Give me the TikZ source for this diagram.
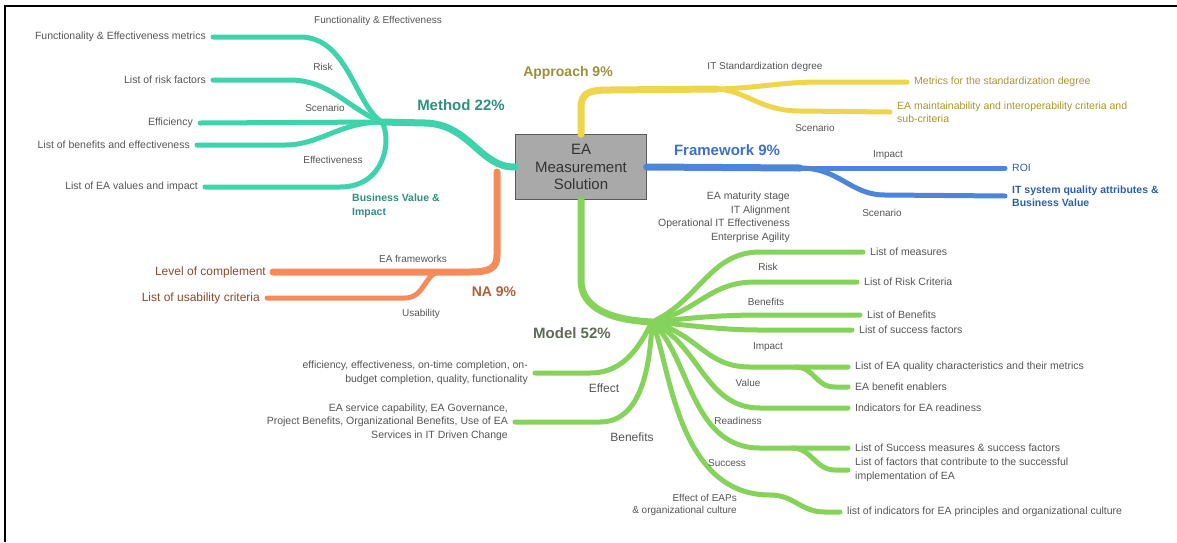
\documentclass[tikz,border=0pt]{standalone}
\usepackage{fontspec}
\setmainfont{Liberation Sans}
\definecolor{methodcol}{HTML}{3ED3AB}
\definecolor{approachcol}{HTML}{EDD54C}
\definecolor{frameworkcol}{HTML}{4C86DA}
\definecolor{nacol}{HTML}{F58A5A}
\definecolor{modelcol}{HTML}{86D35C}
\definecolor{leafgray}{HTML}{555555}
\definecolor{boxgray}{HTML}{A9A9A9}
\definecolor{methodtxt}{HTML}{2F8F80}
\definecolor{approachtxt}{HTML}{9C8F3C}
\definecolor{approachleaf}{HTML}{A8962F}
\definecolor{frameworktxt}{HTML}{3A72C8}
\definecolor{frameworkleaf}{HTML}{2F5FA8}
\definecolor{natxt}{HTML}{B0603A}
\definecolor{naleaf}{HTML}{8A4A30}
\definecolor{modeltxt}{HTML}{5E6B55}
\tikzset{
	leaf/.style={font=\fontsize{10.5}{13.5}\selectfont, text=leafgray, inner xsep=7pt, inner ysep=1pt},
	leafl/.style={leaf, anchor=east, align=right},
	leafr/.style={leaf, anchor=west, align=left},
	twig/.style={font=\fontsize{10}{12}\selectfont, text=leafgray, inner sep=1pt},
	topic/.style={font=\bfseries\fontsize{15}{17}\selectfont, inner sep=1pt},
	branch/.style={line width=5pt, line cap=round},
	trunk/.style={line width=7pt, line cap=round},
}
\begin{document}
\begin{tikzpicture}[x=1pt, y=-1pt]
		\useasboundingbox (0,0) rectangle (1177,542);
		% Frame
		\draw[line width=2pt] (5,542) -- (5,6) -- (1177,6);
		
		% Centre
		\node[draw=gray!70!black, fill=boxgray, minimum width=131pt, minimum height=65pt, inner sep=0pt,
			align=center, font=\fontsize{15}{17.5}\selectfont, text=black!80] (sol) at (581,167) {EA\\Measurement\\Solution};
		
		% Method
		\coordinate (jMethod) at (382,122);
		\node[leafl] (fem) at (213,37) {Functionality \& Effectiveness metrics};
		\node[leafl] (rf) at (213,80) {List of risk factors};
		\node[leafl] (effy) at (200,123) {Efficiency};
		\node[leafl] (lbe) at (197,145) {List of benefits and effectiveness};
		\node[leafl] (lev) at (205,187) {List of EA values and impact};
		\draw[trunk, methodcol] (sol.west) .. controls (480,168) and (470,124) .. (425,123) -- (jMethod);
		\draw[branch, methodcol] (jMethod) .. controls (355,105) and (348,37) .. (300,37) -- (fem.east);
		\draw[branch, methodcol] (jMethod) .. controls (350,110) and (330,80) .. (290,80) -- (rf.east);
		\draw[branch, methodcol] (jMethod) -- (effy.east);
		\draw[branch, methodcol] (jMethod) .. controls (340,122) and (320,145) .. (285,145) -- (lbe.east);
		\draw[branch, methodcol] (jMethod) .. controls (392,140) and (385,187) .. (340,187) -- (lev.east);
		\node[twig, anchor=west] (lFE) at (313,21) {Functionality \& Effectiveness};
		\node[twig] (lRisk) at (323,67) {Risk};
		\node[twig] (lScen) at (325,108) {Scenario};
		\node[twig] (lEffv) at (333,160) {Effectiveness};
		\node[anchor=north west, align=left, inner sep=0pt, text=methodtxt, font=\bfseries\fontsize{10.5}{13.5}\selectfont]
			(lBV) at (352,194) {Business Value \&\\Impact};
		\node[topic, text=methodtxt] (method) at (461,105) {Method 22\%};
		
		% Approach
		\coordinate (jApp) at (717,89);
		\node[leafr, text=approachleaf] (msd) at (907,82) {Metrics for the standardization degree};
		\node[leafr, text=approachleaf] (eam) at (890,112) {EA maintainability and interoperability criteria and\\sub-criteria};
		\draw[trunk, approachcol] (sol.north) -- (581,108) .. controls (581,92) and (590,90) .. (610,90) -- (jApp);
		\draw[branch, approachcol] (jApp) .. controls (760,88) and (780,82) .. (820,82) -- (msd.west);
		\draw[branch, approachcol] (jApp) .. controls (745,90) and (760,111) .. (800,111) -- (eam.west);
		\node[twig] (lITS) at (765,67) {IT Standardization degree};
		\node[twig] (lScen2) at (815,128) {Scenario};
		\node[topic, font=\bfseries\fontsize{14}{16}\selectfont, text=approachtxt] (approach) at (568,73) {Approach 9\%};
		
		% Framework
		\coordinate (jFw) at (800,168);
		\node[leafr, text=frameworkleaf] (roi) at (1005,168) {ROI};
		\node[leafr, text=frameworkleaf, font=\bfseries\fontsize{10.5}{13}\selectfont] (itq) at (1005,196) {IT system quality attributes \&\\Business Value};
		\draw[trunk, frameworkcol] (sol.east) -- (jFw);
		\draw[branch, frameworkcol] (jFw) -- (roi.west);
		\draw[branch, frameworkcol] (jFw) .. controls (840,168) and (850,195) .. (885,195) -- (itq.west);
		\node[twig] (lImp) at (888,155) {Impact};
		\node[twig] (lScen3) at (882,213) {Scenario};
		\node[topic, text=frameworktxt] (framework) at (727,150) {Framework 9\%};
		\node[leaf, anchor=north east, align=right, inner xsep=0pt] (fwlist) at (790,191)
			{EA maturity stage\\IT Alignment\\Operational IT Effectiveness\\Enterprise Agility};
		
		% NA
		\coordinate (jNa) at (497,172);
		\coordinate (jUs) at (440,272);
		\node[leafl, font=\fontsize{12}{14}\selectfont, text=naleaf] (loc) at (273,272) {Level of complement};
		\node[leafl, font=\fontsize{12}{14}\selectfont, text=naleaf] (luc) at (267,298) {List of usability criteria};
		\draw[trunk, nacol] (jNa) -- (497,255) .. controls (497,268) and (490,272) .. (470,272) -- (loc.east);
		\draw[branch, nacol] (jUs) .. controls (425,272) and (425,298) .. (405,298) -- (luc.east);
		\node[twig] (lEAF) at (413,259) {EA frameworks};
		\node[twig] (lUs) at (421,314) {Usability};
		\node[topic, font=\bfseries\fontsize{14}{16}\selectfont, text=natxt] (na) at (494,292) {NA 9\%};
		
		% Model
		\coordinate (jModel) at (652,322);
		\coordinate (jImp) at (795,367);
		\coordinate (jRd) at (792,448);
		\node[leafr] (lm) at (863,252) {List of measures};
		\node[leafr] (lrc) at (857,282) {List of Risk Criteria};
		\node[leafr] (lb) at (860,315) {List of Benefits};
		\node[leafr] (lsf) at (852,330) {List of success factors};
		\node[leafr] (leq) at (848,367) {List of EA quality characteristics and their metrics};
		\node[leafr] (ebe) at (848,387) {EA benefit enablers};
		\node[leafr] (ier) at (848,408) {Indicators for EA readiness};
		\node[leafr] (lsm) at (848,448) {List of Success measures \& success factors};
		\node[leafr] (lfc) at (848,470) {List of factors that contribute to the successful\\implementation of EA};
		\node[leafr] (lie) at (840,512) {list of indicators for EA principles and organizational culture};
		\node[leafl] (eos) at (535,373) {efficiency, effectiveness, on-time completion, on-\\budget completion, quality, functionality};
		\node[leafl] (esc) at (515,422) {EA service capability, EA Governance,\\Project Benefits, Organizational Benefits, Use of EA\\Services in IT Driven Change};
		\draw[trunk, modelcol] (sol.south) -- (581,280) .. controls (581,308) and (610,320) .. (jModel);
		\draw[branch, modelcol] (jModel) .. controls (700,300) and (710,252) .. (760,252) -- (lm.west);
		\draw[branch, modelcol] (jModel) .. controls (700,310) and (710,282) .. (755,282) -- (lrc.west);
		\draw[branch, modelcol] (jModel) .. controls (690,318) and (720,315) .. (760,315) -- (lb.west);
		\draw[branch, modelcol] (jModel) .. controls (690,325) and (720,330) .. (760,330) -- (lsf.west);
		\draw[branch, modelcol] (jModel) .. controls (700,335) and (705,367) .. (750,367) -- (leq.west);
		\draw[branch, modelcol] (jImp) .. controls (815,367) and (815,387) .. (835,387) -- (ebe.west);
		\draw[branch, modelcol] (jModel) .. controls (700,345) and (705,408) .. (760,408) -- (ier.west);
		\draw[branch, modelcol] (jModel) .. controls (690,355) and (690,448) .. (760,448) -- (lsm.west);
		\draw[branch, modelcol] (jRd) .. controls (812,448) and (815,470) .. (835,470) -- (lfc.west);
		\draw[branch, modelcol] (jModel) .. controls (670,360) and (675,495) .. (770,495) .. controls (795,495) and (800,512) .. (825,512) -- (lie.west);
		\draw[branch, modelcol] (jModel) .. controls (640,345) and (625,373) .. (590,373) -- (eos.east);
		\draw[branch, modelcol] (jModel) .. controls (650,370) and (640,422) .. (600,422) -- (esc.east);
		\node[twig] (lRisk2) at (768,267) {Risk};
		\node[twig] (lBen) at (766,302) {Benefits};
		\node[twig] (lImp2) at (768,347) {Impact};
		\node[twig] (lVal) at (748,383) {Value};
		\node[twig] (lRead) at (738,421) {Readiness};
		\node[twig] (lSucc) at (727,463) {Success};
		\node[twig, anchor=east, align=right] (lEAP) at (738,505) {Effect of EAPs\\\& organizational culture};
		\node[font=\fontsize{12}{14}\selectfont, text=leafgray, inner sep=1pt] (lEffect) at (604,388) {Effect};
		\node[font=\fontsize{12}{14}\selectfont, text=leafgray, inner sep=1pt] (lBen2) at (632,437) {Benefits};
		\node[topic, text=modeltxt] (model) at (572,333) {Model 52\%};
	\end{tikzpicture}
\end{document}
